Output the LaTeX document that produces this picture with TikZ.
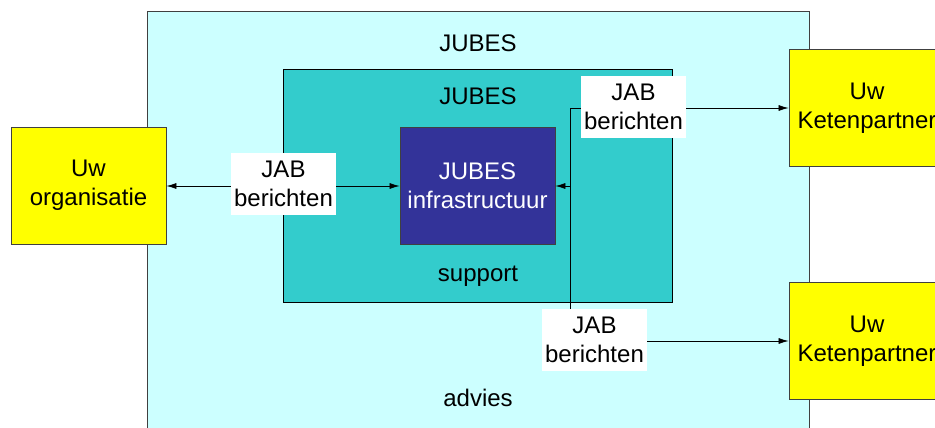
\documentclass[tikz,border=0pt]{standalone}
\usepackage{fontspec}
\setmainfont{Liberation Sans}
\usetikzlibrary{arrows.meta}
\definecolor{lightcyan}{HTML}{CCFFFF}
\definecolor{tealbox}{HTML}{33CCCC}
\definecolor{navybox}{HTML}{333399}
\definecolor{yellowbox}{HTML}{FFFF00}
\definecolor{edgegray}{HTML}{404040}
\tikzset{
  txt/.style={font=\fontsize{24}{29}\selectfont, align=center, inner sep=0pt},
  boxnode/.style={txt, draw=edgegray, line width=0.8pt, minimum width=#1},
  yellowbox/.style={boxnode=155pt, fill=yellowbox, minimum height=117pt},
  labelbox/.style={txt, fill=white, minimum width=105pt, minimum height=62pt},
  conn/.style={draw=black, line width=0.7pt},
  arr/.style={conn, -{Latex[length=10pt,width=6pt]}},
}
\begin{document}
\begin{tikzpicture}[x=1pt,y=-1pt]
\useasboundingbox (0,0) rectangle (935,428);
\clip (0,0) rectangle (935,428);
% outer region
\path[fill=lightcyan, draw=edgegray, line width=0.8pt] (147,11) rectangle (809,445);
\node[txt, anchor=base] (jubesouter) at (478,51.5) {JUBES};
\node[txt, anchor=base] (advies) at (478,406.5) {advies};
% teal inner region
\node[txt, draw=black, line width=0.8pt, fill=tealbox, minimum width=389pt, minimum height=233pt] (teal) at (477.5,185.5) {};
\node[txt, anchor=base] (jubesinner) at (478,104) {JUBES};
\node[txt, anchor=base] (support) at (478,281.5) {support};
% infrastructure
\node[txt, draw=edgegray, line width=0.8pt, fill=navybox, text=white, minimum width=155pt, minimum height=117pt] (infra) at (477.5,185.5) {JUBES\\infrastructuur};
% external parties
\node[yellowbox] (org) at (88.5,185.5) {Uw\\organisatie};
\node[yellowbox, minimum width=156pt] (k1) at (867,108) {Uw\\Ketenpartner};
\node[yellowbox, minimum width=156pt] (k2) at (867,341) {Uw\\Ketenpartner};
% junction coordinates
\coordinate (lmid) at (283.5,186);
\coordinate (jtop) at (570,108);
\coordinate (jmid) at (570,186);
\coordinate (jbot) at (570,341);
% connectors
\draw[arr] (lmid) -- (lmid -| org.east);
\draw[arr] (lmid) -- (lmid -| infra.west);
\draw[conn] (jtop) -- (jbot);
\draw[arr] (jtop) -- (k1.west);
\draw[arr] (jbot) -- (k2.west);
\draw[arr] (jmid) -- (jmid -| infra.east);
% labels on the connectors
\node[labelbox] (lab1) at (283.5,184) {JAB\\berichten};
\node[labelbox] (lab2) at (633.5,107) {JAB\\berichten};
\node[labelbox] (lab3) at (594.5,340) {JAB\\berichten};
\end{tikzpicture}
\end{document}
